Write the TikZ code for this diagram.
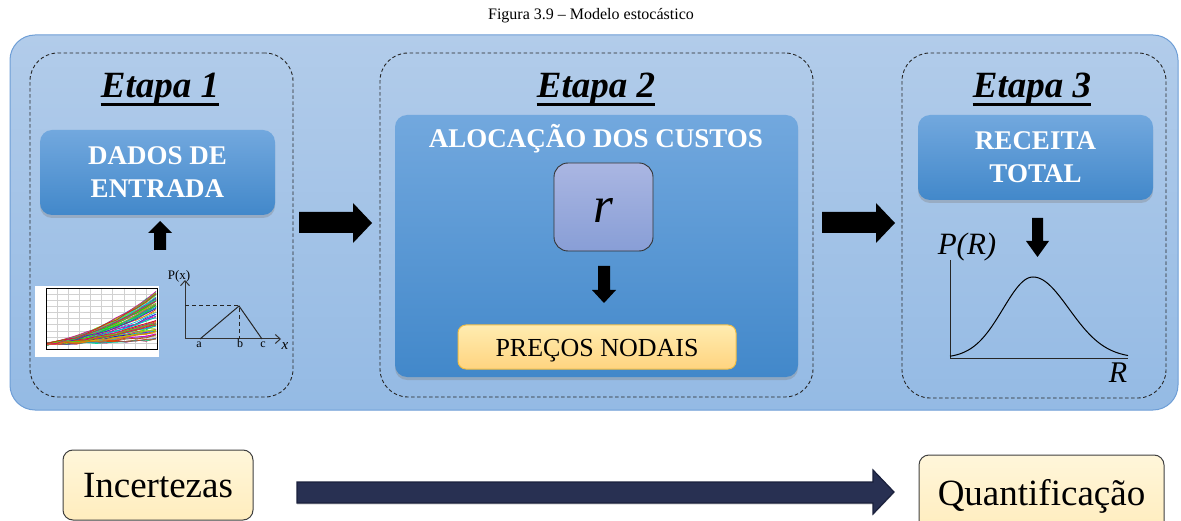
\documentclass[tikz,border=0pt]{standalone}
\usepackage{fontspec}
\setmainfont{Liberation Serif}
\usetikzlibrary{shadows,arrows.meta,calc}
\definecolor{bgtop}{RGB}{178,204,234}
\definecolor{bgbot}{RGB}{148,186,228}
\definecolor{bgline}{RGB}{110,158,214}
\definecolor{bluetop}{RGB}{114,168,222}
\definecolor{bluebot}{RGB}{66,136,202}
\definecolor{rtop}{RGB}{170,182,226}
\definecolor{rbot}{RGB}{136,158,214}
\definecolor{ytop}{RGB}{255,236,176}
\definecolor{ybot}{RGB}{255,212,128}
\definecolor{yline}{RGB}{240,190,70}
\definecolor{ctop}{RGB}{255,246,218}
\definecolor{cbot}{RGB}{255,237,190}
\definecolor{navy}{RGB}{40,48,82}
\definecolor{navyline}{RGB}{26,32,60}
\begin{document}
\begin{tikzpicture}[x=1pt,y=-1pt,
  bgbox/.style={draw=bgline,line width=1pt,rounded corners=25pt,top color=bgtop,bottom color=bgbot,inner sep=0pt},
  stagebox/.style={draw=black!85,line width=0.9pt,dash pattern=on 3.5pt off 2.5pt,rounded corners=28pt,inner sep=0pt},
  bluebox/.style={rounded corners=12pt,top color=bluetop,bottom color=bluebot,draw=none,
    drop shadow={shadow xshift=0pt,shadow yshift=-3pt,opacity=0.35},
    text=white,align=center,font=\fontsize{27}{33}\selectfont\bfseries},
  etapa/.style={anchor=base,inner sep=0pt,font=\fontsize{37}{40}\selectfont\bfseries\itshape},
  ul/.style={line width=3pt},
  rbox/.style={rounded corners=14pt,top color=rtop,bottom color=rbot,draw=black!80,line width=0.9pt},
  ybox/.style={rounded corners=8pt,top color=ytop,bottom color=ybot,draw=yline,line width=1pt,
    font=\fontsize{26}{30}\selectfont,text height=18pt,text depth=0pt},
  cbox/.style={rounded corners=10pt,top color=ctop,bottom color=cbot,draw=black!75,line width=1pt,
    font=\fontsize{37}{40}\selectfont,text height=25pt,text depth=0pt},
  blockarrow/.style={fill=black},
  axis/.style={draw=black!80,line width=1pt},
  lbl/.style={inner sep=0pt,anchor=base}
]
\useasboundingbox (0,0) rectangle (1181,521);

% caption
\node[lbl,font=\fontsize{16}{18}\selectfont] (cap) at (591,20) {Figura 3.9 -- Modelo estocástico};

% background
\node[bgbox,minimum width=1168pt,minimum height=375pt] (bg) at (594,222.5) {};

% stage boxes
\node[stagebox,minimum width=263pt,minimum height=344pt] (st1) at (161.5,225) {};
\node[stagebox,minimum width=433pt,minimum height=344pt] (st2) at (596.5,225) {};
\node[stagebox,minimum width=264pt,minimum height=345pt] (st3) at (1034,225.5) {};

% Etapa titles
\node[etapa] (e1) at (160,98) {Etapa 1};
\node[etapa] (e2) at (596,98) {Etapa 2};
\node[etapa] (e3) at (1032,98) {Etapa 3};
\foreach \e in {e1,e2,e3}{
  \draw[ul] ([yshift=-7pt]\e.base west) -- ([yshift=-7pt]\e.base east);
}

% Etapa 1
\node[bluebox,minimum width=235pt,minimum height=85pt] (dados) at (157.5,172.5) {DADOS DE\\ENTRADA};
\fill[blockarrow] (154,250) -- (154,233) -- (148,233) -- (160,221) -- (172,233) -- (166,233) -- (166,250) -- cycle;

% chart image
\node[fill=white,minimum width=124pt,minimum height=71pt,inner sep=0pt] (chart) at (97,321.5) {};
\begin{scope}
  \foreach \i in {0,...,10}{
    \draw[black!18,line width=0.3pt] ({46+11.1*\i},288) -- ({46+11.1*\i},349);
    \draw[black!18,line width=0.3pt] (46,{288+6.1*\i}) -- (157,{288+6.1*\i});
  }
  \clip (46,288) rectangle (157,349);
  \pgfmathsetseed{12}
  \foreach \k in {1,...,80}{
    \pgfmathsetmacro\ye{289+52*rnd}
    \pgfmathsetmacro\hu{rnd}
    \definecolor{lc}{hsb}{\hu,0.95,0.85}
    \draw[lc,line width=0.7pt] plot[domain=0:1,samples=12] ({47+109*\x},{344-(344-\ye)*(0.35*\x+0.65*\x*\x)+1.2*rand});
  }
\end{scope}
\draw[black,line width=0.6pt] (46,288) rectangle (157,349);

% triangular distribution
\coordinate (o1) at (185,339);
\draw[axis,-{Straight Barb[length=5pt,width=9pt]}] (o1) -- (185,280);
\draw[axis,-{Straight Barb[length=5pt,width=9pt]}] (o1) -- (281,339);
\draw[line width=1pt,black!85] (200,339) -- (239,306) -- (262,339);
\draw[line width=1pt,black!85,dash pattern=on 4pt off 3pt] (185,306) -- (239,306) -- (239,339);
\node[lbl,font=\fontsize{13}{14}\selectfont] (px) at (179,280) {P(x)};
\node[lbl,font=\fontsize{12}{13}\selectfont] (la) at (199,348) {a};
\node[lbl,font=\fontsize{12}{13}\selectfont] (lb) at (240,348) {b};
\node[lbl,font=\fontsize{12}{13}\selectfont] (lc) at (263,348) {c};
\node[lbl,font=\fontsize{15}{16}\selectfont\itshape] (lx) at (285,349) {x};

% arrow 1 -> 2
\fill[blockarrow] (299,212) -- (353,212) -- (353,203) -- (372,223) -- (353,243) -- (353,233) -- (299,233) -- cycle;

% Etapa 2
\node[bluebox,minimum width=403pt,minimum height=262pt] (aloc) at (596.5,246) {};
\node[lbl,text=white,font=\fontsize{27}{33}\selectfont\bfseries] (aloct) at (596,148) {ALOCAÇÃO DOS CUSTOS};
\node[rbox,minimum width=99pt,minimum height=88pt] (r) at (603.5,207) {};
\node[lbl,font=\fontsize{51}{51}\selectfont\itshape] (rt) at (603,223) {r};
\fill[blockarrow] (598,266) -- (610,266) -- (610,290) -- (616,290) -- (604,303) -- (592,290) -- (598,290) -- cycle;
\node[ybox,minimum width=278pt,minimum height=44pt] (precos) at (597,347) {PREÇOS NODAIS};

% arrow 2 -> 3
\fill[blockarrow] (822,212) -- (876,212) -- (876,203) -- (895,223) -- (876,243) -- (876,233) -- (822,233) -- cycle;

% Etapa 3
\node[bluebox,minimum width=235pt,minimum height=85pt] (receita) at (1035.5,157.5) {RECEITA\\TOTAL};
\fill[blockarrow] (1032,218) -- (1043,218) -- (1043,241) -- (1049,241) -- (1037.5,257) -- (1026,241) -- (1032,241) -- cycle;
\node[lbl,font=\fontsize{31}{33}\selectfont\itshape] (pr) at (967,255) {P(R)};
\coordinate (o3) at (950,358);
\draw[black!85,line width=0.9pt] (950,260) -- (o3) -- (1128,358);
\draw[black,line width=1pt] plot[domain=950:1033,samples=50] (\x,{358-81*exp(-((\x-1033)*(\x-1033))/1800)})
  -- plot[domain=1033:1128,samples=50] (\x,{358-81*exp(-((\x-1033)*(\x-1033))/2592)});
\node[lbl,font=\fontsize{30}{32}\selectfont\itshape] (rl) at (1118,382) {R};

% bottom
\node[cbox,minimum width=190pt,minimum height=70pt] (inc) at (158,485) {Incertezas};
\node[cbox,minimum width=245pt,minimum height=76pt] (quant) at (1041.5,493) {Quantificação};
\fill[navy,draw=navyline,line width=1.2pt,drop shadow={shadow xshift=0pt,shadow yshift=-1.5pt,opacity=0.3}]
  (297,482) -- (873,482) -- (873,470) -- (894,492) -- (873,514) -- (873,503) -- (297,503) -- cycle;
\end{tikzpicture}
\end{document}
